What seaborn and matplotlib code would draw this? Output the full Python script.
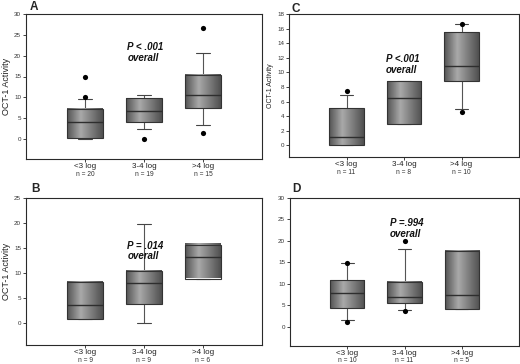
import numpy as np
import pandas as pd
import matplotlib
matplotlib.use("Agg")
import matplotlib.pyplot as plt
from matplotlib.colors import LinearSegmentedColormap
import seaborn as sns

sns.set_style("ticks")
plt.rcParams['font.family'] = ['Liberation Sans', 'DejaVu Sans']

categories = ["<3 log", "3-4 log", ">4 log"]

# Panel A
A_n = [20, 19, 15]
A_q1 = [0.3, 4.15, 7.35]
A_med = [4.2, 6.7, 10.5]
A_q3 = [7.3, 9.8, 15.3]
A_lo = [0.1, 2.5, 3.3]
A_hi = [9.7, 10.5, 20.6]
A_out = [[10.0, 14.8], [0.0], [1.5, 26.7]]

# Panel B
B_n = [9, 9, 6]
B_q1 = [0.8, 3.84, 8.9]
B_med = [3.7, 8.0, 13.3]
B_q3 = [8.3, 10.45, 15.7]
B_lo = [0.8, 0.07, 8.9]
B_hi = [8.3, 19.9, 15.7]
B_out = [[], [], []]

# Panel C
C_n = [11, 8, 10]
C_q1 = [0.0, 2.93, 8.84]
C_med = [1.2, 6.46, 10.9]
C_q3 = [5.05, 8.8, 15.5]
C_lo = [0.0, 2.93, 4.95]
C_hi = [6.9, 8.8, 16.6]
C_out = [[7.4], [], [4.5, 16.6]]

# Panel D
D_n = [10, 11, 5]
D_q1 = [4.36, 5.5, 4.05]
D_med = [7.9, 6.86, 7.4]
D_q3 = [10.8, 10.4, 17.7]
D_lo = [1.5, 3.8, 4.05]
D_hi = [14.9, 18.1, 17.7]
D_out = [[1.2, 14.9], [3.7, 19.9], []]

W, H = 520, 364
fig = plt.figure(figsize=(W / 100, H / 100), dpi=100)

def ax_px(left, right, top, bottom):
    return fig.add_axes([left / W, (H - bottom) / H, (right - left) / W, (bottom - top) / H])

cmap = LinearSegmentedColormap.from_list(
    "cyl", [(0.0, "#545454"), (0.38, "#a9a9a9"), (1.0, "#505050")])
grad = np.linspace(0, 1, 64).reshape(1, -1)

def panel(ax, q1, med, q3, lo, hi, outs, ns, ylim, yticks, ptext, pxy, ylabel, ylsize):
    pos = [1, 2, 3]
    width = 0.6
    stats = []
    for i in range(3):
        stats.append(dict(q1=q1[i], med=med[i], q3=q3[i], whislo=lo[i], whishi=hi[i], fliers=[]))
    ax.bxp(stats, positions=pos, widths=width, patch_artist=True, showfliers=False,
           boxprops=dict(facecolor="none", edgecolor="#333333", linewidth=0.8, zorder=3),
           medianprops=dict(color="#2e2e2e", linewidth=1.0, zorder=4),
           whiskerprops=dict(color="#555555", linewidth=0.8),
           capprops=dict(color="#444444", linewidth=0.8),
           capwidths=0.23)
    for i in range(3):
        ax.imshow(grad, cmap=cmap, aspect="auto", interpolation="bilinear",
                  extent=[pos[i] - width / 2, pos[i] + width / 2, q1[i], q3[i]], zorder=2)
    xs, ys = [], []
    for i in range(3):
        for v in outs[i]:
            xs.append(pos[i]); ys.append(v)
    if xs:
        df = pd.DataFrame({"x": xs, "y": ys})
        sns.scatterplot(data=df, x="x", y="y", color="black", s=14, linewidth=0,
                        ax=ax, legend=False, zorder=6)
    ax.set_xlim(0, 4)
    ax.set_ylim(*ylim)
    ax.set_yticks(yticks)
    ax.set_yticklabels([str(t) for t in yticks], fontsize=4.5, color="#333333")
    ax.set_xticks(pos)
    ax.set_xticklabels(categories, fontsize=5.8, color="#222222")
    ax.tick_params(axis="both", length=2, width=0.6, pad=1.5, color="#222222")
    ax.tick_params(axis="x", pad=1)
    for i in range(3):
        ax.annotate("n = %d" % ns[i], xy=(pos[i], 0), xycoords=ax.get_xaxis_transform(),
                    xytext=(0, -10.8), textcoords="offset points",
                    ha="center", va="center", fontsize=4.8, color="#333333")
    ax.set_xlabel("")
    ax.set_ylabel(ylabel, fontsize=ylsize, labelpad=2, color="#222222")
    for s in ax.spines.values():
        s.set_visible(True)
        s.set_linewidth(0.8)
        s.set_color("#2a2a2a")
    ax.text(pxy[0], pxy[1], ptext, ha="left", va="center", fontsize=7,
            fontweight="bold", style="italic", linespacing=1.1, color="#111111")

axA = ax_px(26, 262, 14, 159)
panel(axA, A_q1, A_med, A_q3, A_lo, A_hi, A_out, A_n, (-4.8, 30), [0, 5, 10, 15, 20, 25, 30],
      "P < .001\noverall", (1.72, 20.8), "OCT-1 Activity", 6.5)
axC = ax_px(289, 519, 14, 157)
panel(axC, C_q1, C_med, C_q3, C_lo, C_hi, C_out, C_n, (-1.6, 18), list(range(0, 19, 2)),
      "P <.001\noverall", (1.68, 11.1), "OCT-1 Activity", 5)
axB = ax_px(26, 262, 198, 345)
panel(axB, B_q1, B_med, B_q3, B_lo, B_hi, B_out, B_n, (-4.4, 25), [0, 5, 10, 15, 20, 25],
      "P = .014\noverall", (1.72, 14.4), "OCT-1 Activity", 6.5)
axD = ax_px(290, 519, 198, 346)
panel(axD, D_q1, D_med, D_q3, D_lo, D_hi, D_out, D_n, (-4.5, 30), [0, 5, 10, 15, 20, 25, 30],
      "P =.994\noverall", (1.74, 22.9), "", 6)

for lab, x, y in [("A", 34, 7), ("C", 296, 9), ("B", 36, 189), ("D", 296, 189)]:
    fig.text(x / W, 1 - y / H, lab, ha="center", va="center", fontsize=8.5, fontweight="bold")

fig.savefig("out.png", dpi=100)
